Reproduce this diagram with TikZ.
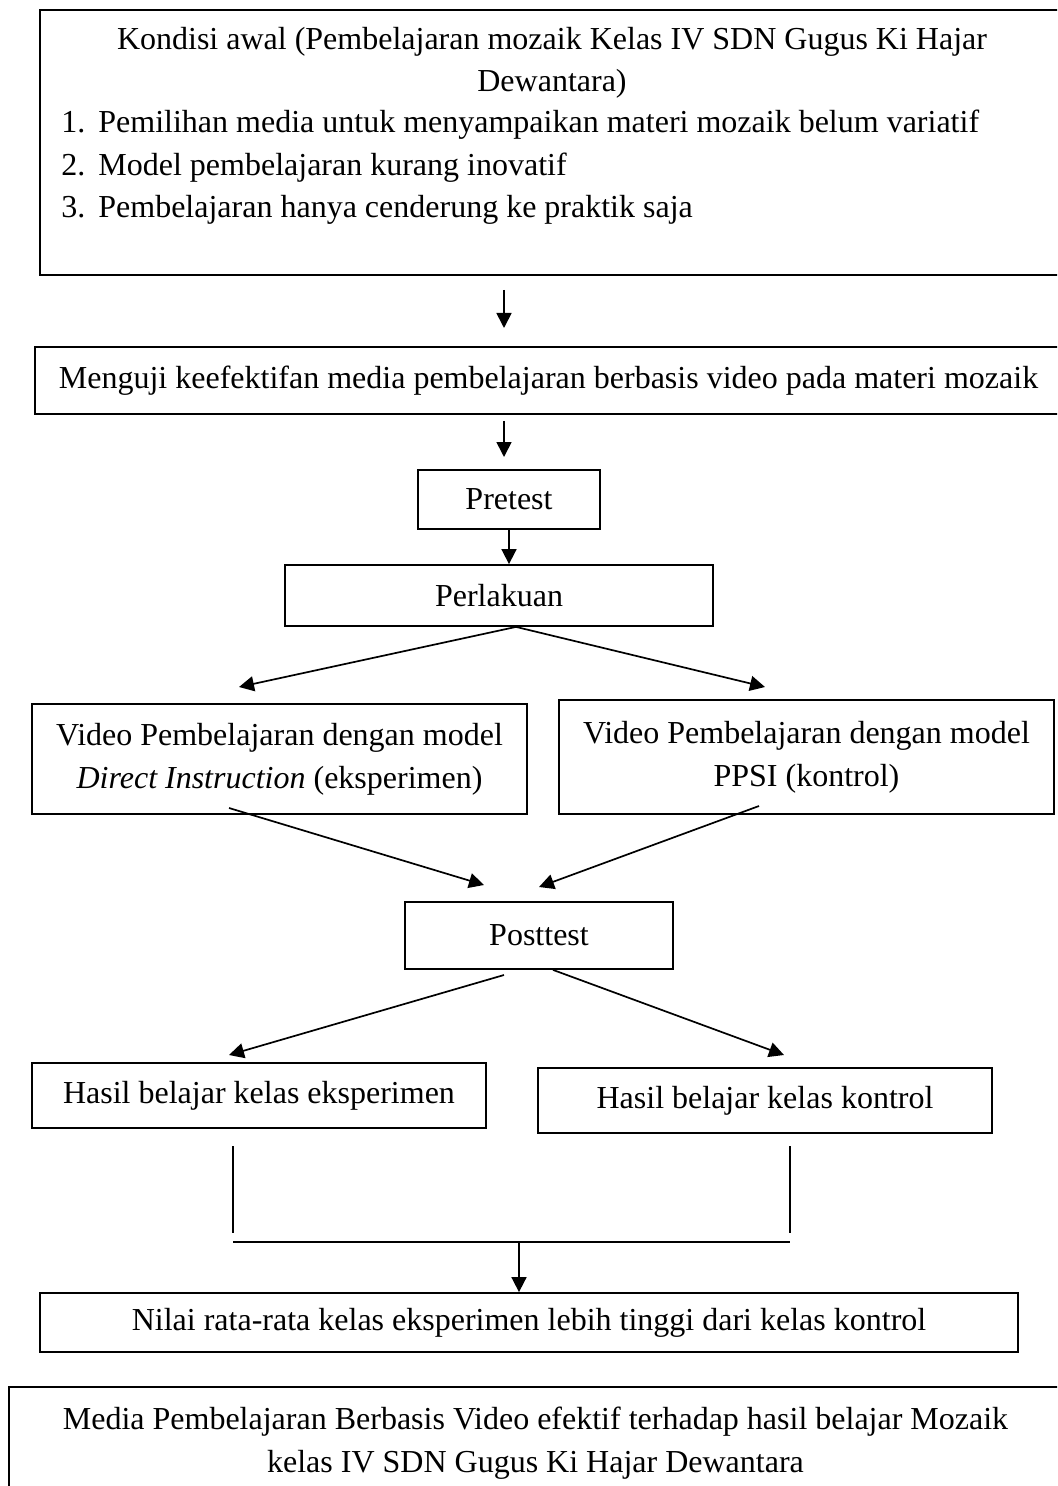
\documentclass[tikz,border=0pt]{standalone}
\usepackage{fontspec}
\setmainfont{Liberation Serif}
\usetikzlibrary{arrows.meta}
\begin{document}
\begin{tikzpicture}[x=0.5pt,y=-0.5pt,font=\fontsize{16}{21.5}\selectfont,
       box/.style={draw,line width=0.9pt,inner sep=0pt,align=center},
       txt/.style={inner sep=0pt},
       arr/.style={line width=0.85pt,-{Triangle[length=7.5pt,width=7.5pt]}},
       thin line/.style={line width=0.6pt}]

       \useasboundingbox (0,0) rectangle (1057,1486);
       \clip (0,0) rectangle (1057,1486);

       \node[box,minimum width=510pt,minimum height=132.5pt] (awal) at (550,142.5) {};
       \node[txt,anchor=base] (judul1) at (552,50) {Kondisi awal (Pembelajaran mozaik Kelas IV SDN Gugus Ki Hajar};
       \node[txt,anchor=base] (judul2) at (552,92) {Dewantara)};
       \node[txt,anchor=base west] (item1) at (61,133) {\makebox[18.5pt][l]{1.}Pemilihan media untuk menyampaikan materi mozaik belum variatif};
       \node[txt,anchor=base west] (item2) at (61,176) {\makebox[18.5pt][l]{2.}Model pembelajaran kurang inovatif};
       \node[txt,anchor=base west] (item3) at (61,218) {\makebox[18.5pt][l]{3.}Pembelajaran hanya cenderung ke praktik saja};

       \node[box,minimum width=513.5pt,minimum height=33.5pt] (uji) at (548.5,380.5) {Menguji keefektifan media pembelajaran berbasis video pada materi mozaik};
       \node[box,minimum width=91pt,minimum height=29.5pt] (pre) at (509,499.5) {Pretest};
       \node[box,minimum width=214pt,minimum height=30.5pt] (perlakuan) at (499,595.5) {Perlakuan};
       \node[box,minimum width=247.5pt,minimum height=55pt] (di) at (279.5,759) {Video Pembelajaran dengan model\\\textit{Direct Instruction} (eksperimen)};
       \node[box,minimum width=247.5pt,minimum height=57pt] (ppsi) at (806.5,757) {Video Pembelajaran dengan model\\PPSI (kontrol)};
       \node[box,minimum width=134pt,minimum height=33.5pt] (post) at (539,935.5) {Posttest};
       \node[box,minimum width=227pt,minimum height=32.5pt] (hasile) at (259,1095.5) {Hasil belajar kelas eksperimen};
       \node[box,minimum width=227pt,minimum height=32.5pt] (hasilk) at (765,1100.5) {Hasil belajar kelas kontrol};
       \node[box,minimum width=489pt,minimum height=29.5pt] (nilai) at (529,1322.5) {Nilai rata-rata kelas eksperimen lebih tinggi dari kelas kontrol};
       \node[box,minimum width=526.5pt,minimum height=56.5pt] (simpulan) at (535.5,1443.5) {Media Pembelajaran Berbasis Video efektif terhadap hasil belajar Mozaik\\kelas IV SDN Gugus Ki Hajar Dewantara};

       \coordinate (s1) at (504,290);
       \coordinate (e1) at (504,328);
       \coordinate (s2) at (504,421);
       \coordinate (e2) at (504,457);
       \coordinate (p) at ([xshift=8.5pt]perlakuan.south);
       \coordinate (e4) at (239,687);
       \coordinate (e5) at (765,687);
       \coordinate (s6) at (229,808);
       \coordinate (e6) at (484,885);
       \coordinate (s7) at (759,806);
       \coordinate (e7) at (539,887);
       \coordinate (s8) at (504,975);
       \coordinate (e8) at (229,1055);
       \coordinate (q) at ([xshift=7pt]post.south);
       \coordinate (e9) at (784,1055);
       \coordinate (l1) at (233,1146);
       \coordinate (l2) at (233,1233);
       \coordinate (l3) at (790,1146);
       \coordinate (l4) at (790,1233);
       \coordinate (m1) at (233,1242);
       \coordinate (m2) at (790,1242);
       \coordinate (m) at (519,1242);

       \draw[arr] (s1) -- (e1);
       \draw[arr] (s2) -- (e2);
       \draw[arr] (pre.south) -- (pre.south |- perlakuan.north);
       \draw[arr] (p) -- (e4);
       \draw[arr] (p) -- (e5);
       \draw[arr] (s6) -- (e6);
       \draw[arr] (s7) -- (e7);
       \draw[arr] (s8) -- (e8);
       \draw[arr] (q) -- (e9);
       \draw[thin line] (l1) -- (l2);
       \draw[thin line] (l3) -- (l4);
       \draw[thin line] (m1) -- (m2);
       \draw[arr] (m) -- (m |- nilai.north);
     \end{tikzpicture}
\end{document}
